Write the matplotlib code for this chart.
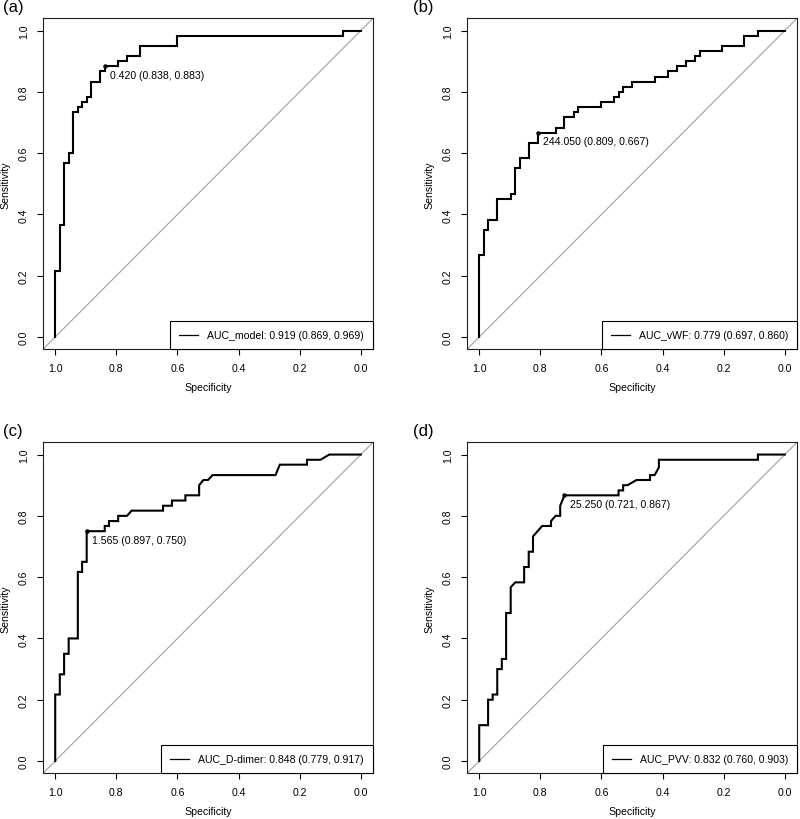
import matplotlib
matplotlib.use('Agg')
import matplotlib.pyplot as plt

plt.rcParams['font.family'] = ['Liberation Sans', 'DejaVu Sans']

# ROC corner points (specificity, sensitivity)
spec_a = [1.0, 1.0, 0.985, 0.985, 0.971, 0.971, 0.956, 0.956, 0.941, 0.941, 0.926, 0.926,
          0.912, 0.912, 0.897, 0.897, 0.882, 0.882, 0.853, 0.853, 0.838, 0.838, 0.794, 0.794,
          0.765, 0.765, 0.721, 0.721, 0.603, 0.603, 0.059, 0.059, 0.0]
sens_a = [0.0, 0.217, 0.217, 0.367, 0.367, 0.567, 0.567, 0.6, 0.6, 0.733, 0.733, 0.75,
          0.75, 0.767, 0.767, 0.783, 0.783, 0.833, 0.833, 0.867, 0.867, 0.883, 0.883, 0.9,
          0.9, 0.917, 0.917, 0.95, 0.95, 0.983, 0.983, 1.0, 1.0]

spec_b = [1.0, 1.0, 0.985, 0.985, 0.971, 0.971, 0.941, 0.941, 0.897, 0.897, 0.882, 0.882,
          0.868, 0.868, 0.838, 0.838, 0.809, 0.809, 0.75, 0.75, 0.721, 0.721, 0.691, 0.691,
          0.676, 0.676, 0.603, 0.603, 0.559, 0.559, 0.544, 0.544, 0.529, 0.529, 0.5, 0.5,
          0.426, 0.426, 0.382, 0.382, 0.353, 0.353, 0.324, 0.324, 0.294, 0.294, 0.279, 0.279,
          0.206, 0.206, 0.132, 0.132, 0.088, 0.088, 0.0]
sens_b = [0.0, 0.267, 0.267, 0.35, 0.35, 0.383, 0.383, 0.45, 0.45, 0.467, 0.467, 0.55,
          0.55, 0.583, 0.583, 0.633, 0.633, 0.667, 0.667, 0.683, 0.683, 0.717, 0.717, 0.733,
          0.733, 0.75, 0.75, 0.767, 0.767, 0.783, 0.783, 0.8, 0.8, 0.817, 0.817, 0.833,
          0.833, 0.85, 0.85, 0.867, 0.867, 0.883, 0.883, 0.9, 0.9, 0.917, 0.917, 0.933,
          0.933, 0.95, 0.95, 0.983, 0.983, 1.0, 1.0]

spec_c = [1.0, 1.0, 0.985, 0.985, 0.971, 0.971, 0.956, 0.956, 0.926, 0.926, 0.912, 0.912,
          0.897, 0.897, 0.838, 0.838, 0.824, 0.824, 0.794, 0.794, 0.765, 0.75, 0.647, 0.647,
          0.618, 0.618, 0.574, 0.574, 0.529, 0.529, 0.515, 0.5, 0.485, 0.279, 0.265, 0.176,
          0.176, 0.132, 0.103, 0.0]
sens_c = [0.0, 0.217, 0.217, 0.283, 0.283, 0.35, 0.35, 0.4, 0.4, 0.617, 0.617, 0.65,
          0.65, 0.75, 0.75, 0.767, 0.767, 0.783, 0.783, 0.8, 0.8, 0.817, 0.817, 0.833,
          0.833, 0.85, 0.85, 0.867, 0.867, 0.9, 0.917, 0.917, 0.933, 0.933, 0.967, 0.967,
          0.983, 0.983, 1.0, 1.0]

spec_d = [1.0, 1.0, 0.971, 0.971, 0.956, 0.956, 0.941, 0.941, 0.926, 0.926, 0.912, 0.912,
          0.897, 0.897, 0.882, 0.853, 0.853, 0.838, 0.838, 0.824, 0.824, 0.794, 0.765, 0.765,
          0.75, 0.735, 0.735, 0.728, 0.721, 0.544, 0.544, 0.529, 0.529, 0.515, 0.485, 0.441,
          0.441, 0.426, 0.412, 0.412, 0.088, 0.088, 0.0]
sens_d = [0.0, 0.117, 0.117, 0.2, 0.2, 0.217, 0.217, 0.3, 0.3, 0.333, 0.333, 0.483,
          0.483, 0.567, 0.583, 0.583, 0.633, 0.633, 0.683, 0.683, 0.733, 0.767, 0.767, 0.783,
          0.8, 0.8, 0.833, 0.85, 0.867, 0.867, 0.883, 0.883, 0.9, 0.9, 0.917, 0.917,
          0.933, 0.933, 0.958, 0.983, 0.983, 1.0, 1.0]

panel_tags = ["(a)", "(b)", "(c)", "(d)"]
auc_labels = ["AUC_model: 0.919 (0.869, 0.969)",
              "AUC_vWF: 0.779 (0.697, 0.860)",
              "AUC_D-dimer: 0.848 (0.779, 0.917)",
              "AUC_PVV: 0.832 (0.760, 0.903)"]
thres_value = [0.420, 244.050, 1.565, 25.250]
thres_spec = [0.838, 0.809, 0.897, 0.721]
thres_sens = [0.883, 0.667, 0.750, 0.867]

curves = [(spec_a, sens_a), (spec_b, sens_b), (spec_c, sens_c), (spec_d, sens_d)]
ticks = [0.0, 0.2, 0.4, 0.6, 0.8, 1.0]

W, H = 800, 820
fig = plt.figure(figsize=(W / 100, H / 100), dpi=100)

# axes boxes in pixels: left, top
boxes = [(43, 19.3), (467, 19.3), (43, 443.3), (467, 443.3)]
bw, bh = 330, 331
fs = 7.6

for i, (left, top) in enumerate(boxes):
    ax = fig.add_axes([left / W, 1 - (top + bh) / H, bw / W, bh / H])
    spec, sens = curves[i]
    ax.plot([1.04, -0.04], [-0.04, 1.04], color='#a0a0a0', lw=0.8, zorder=1)
    ax.plot(spec, sens, color='black', lw=1.5, solid_joinstyle='miter', zorder=3,
            label=auc_labels[i])
    ax.plot(thres_spec[i], thres_sens[i], 'o', color='black', ms=2.2, zorder=4)
    txt = f"{thres_value[i]:.3f} ({thres_spec[i]:.3f}, {thres_sens[i]:.3f})"
    ax.annotate(txt, (thres_spec[i], thres_sens[i]), xytext=(3.8, -6.3),
                textcoords='offset points', ha='left', va='center', fontsize=fs)

    ax.set_xlim(1.04, -0.04)
    ax.set_ylim(-0.04, 1.04)
    ax.set_xticks(ticks)
    ax.set_yticks(ticks)
    ax.set_xticklabels([f"{t:.1f}" for t in ticks])
    ax.set_yticklabels([f"{t:.1f}" for t in ticks], rotation=90, va='center')
    ax.tick_params(direction='out', length=4, width=0.8, labelsize=fs, pad=6)
    for s in ax.spines.values():
        s.set_linewidth(0.8)
        s.set_color('#222222')

    ax.set_xlabel("Specificity", fontsize=fs)
    ax.set_ylabel("Sensitivity", fontsize=fs)
    ax.xaxis.set_label_coords(0.5, -0.098)
    ax.yaxis.set_label_coords(-0.098, 0.5)

    leg = ax.legend(loc='lower right', bbox_to_anchor=(1, 0), borderaxespad=0,
                    fontsize=fs, frameon=True, fancybox=False, framealpha=1,
                    edgecolor='black', handlelength=1.8, handletextpad=0.85,
                    borderpad=0.85)
    leg.get_frame().set_linewidth(0.8)
    for ln in leg.get_lines():
        ln.set_linewidth(0.9)

    tag_x = 3 if left < 400 else 413
    fig.text(tag_x / W, 1 - (top - 12) / H, panel_tags[i], fontsize=12,
             ha='left', va='center')

fig.savefig("out.png", dpi=100)
